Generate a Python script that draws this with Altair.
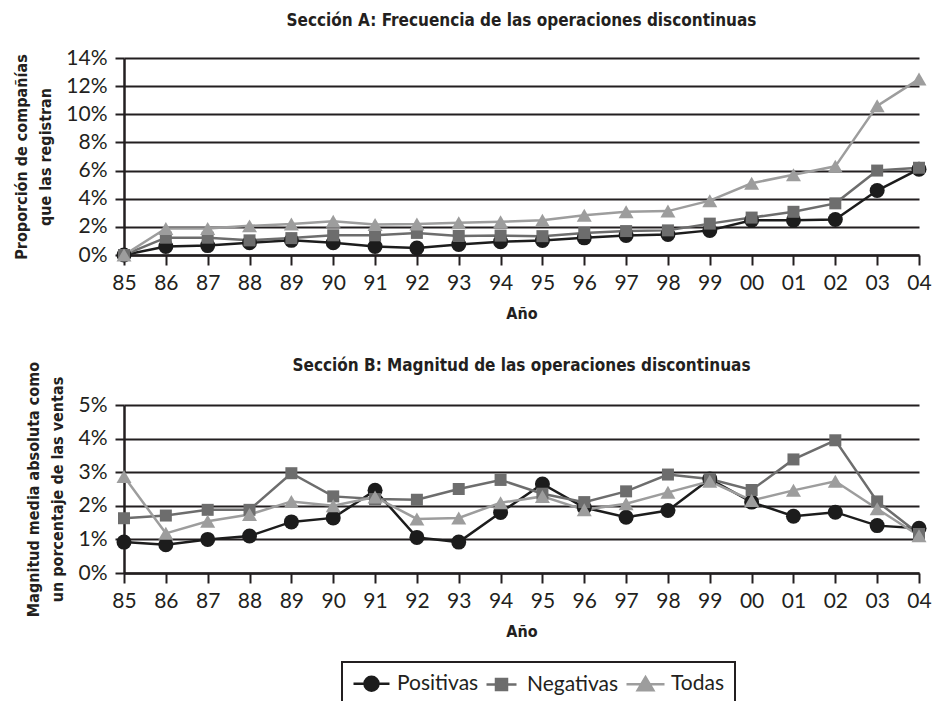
import altair as alt
import pandas as pd

# ---- data ----
anios = ["85", "86", "87", "88", "89", "90", "91", "92", "93", "94",
         "95", "96", "97", "98", "99", "00", "01", "02", "03", "04"]
series = ["Positivas", "Negativas", "Todas"]

# Sección A: frecuencia (%)
a_positivas = [0.0, 0.6, 0.67, 0.87, 1.04, 0.87, 0.6, 0.5, 0.75, 0.95,
               1.03, 1.22, 1.39, 1.46, 1.75, 2.47, 2.47, 2.52, 4.58, 6.1]
a_negativas = [0.0, 1.23, 1.23, 1.04, 1.2, 1.4, 1.4, 1.57, 1.35, 1.38,
               1.34, 1.56, 1.7, 1.75, 2.23, 2.66, 3.07, 3.67, 6.0, 6.2]
a_todas = [0.0, 1.88, 1.88, 2.07, 2.2, 2.4, 2.17, 2.2, 2.3, 2.36,
           2.47, 2.83, 3.07, 3.12, 3.86, 5.1, 5.7, 6.3, 10.6, 12.5]

# Sección B: magnitud (%)
b_positivas = [0.92, 0.84, 1.0, 1.1, 1.52, 1.64, 2.46, 1.06, 0.92, 1.8,
               2.65, 1.95, 1.66, 1.86, 2.8, 2.11, 1.69, 1.81, 1.41, 1.33]
b_negativas = [1.63, 1.71, 1.88, 1.88, 2.97, 2.28, 2.2, 2.18, 2.5, 2.77,
               2.36, 2.11, 2.43, 2.93, 2.8, 2.47, 3.38, 3.95, 2.13, 1.16]
b_todas = [2.87, 1.18, 1.54, 1.74, 2.13, 2.0, 2.26, 1.61, 1.64, 2.09,
           2.28, 1.88, 2.06, 2.4, 2.73, 2.16, 2.46, 2.73, 1.91, 1.11]

a_ticks = [0, 2, 4, 6, 8, 10, 12, 14]
b_ticks = [0, 1, 2, 3, 4, 5]

# ---- styles ----
colores = ["#1c1c1c", "#6d6d6d", "#9d9d9d"]
formas = ["circle", "square", "triangle-up"]
tamanos = [225, 144, 225]
formas_leyenda = [
    "M-1.8,0L1.8,0M0.7,0A0.7,0.7,0,1,1,-0.7,0A0.7,0.7,0,1,1,0.7,0Z",
    "M-1.5,0L1.5,0M-0.55,-0.55L0.55,-0.55L0.55,0.55L-0.55,0.55Z",
    "M-1.9,0L1.9,0M0,-0.7L0.78,0.6L-0.78,0.6Z",
]
INK = "#231f20"
TFONT = "DejaVu Sans Condensed, Roboto, sans-serif"
LFONT = "Lato"
ANCHO = 795


def largo(pos, neg, tod):
    rows = []
    for s, vals in zip(series, [pos, neg, tod]):
        for i, (a, v) in enumerate(zip(anios, vals)):
            rows.append({"anio": a, "idx": i, "serie": s, "valor": v})
    return pd.DataFrame(rows)


def panel(df, titulo, ytitulo, ticks, alto, leyenda=False, toff=12, tdy=0):
    base = alt.Chart(df)
    x = alt.X("anio:N", sort=anios, scale=alt.Scale(type="point", padding=0),
              axis=alt.Axis(title="Año", labelAngle=0, grid=False))
    y = alt.Y("valor:Q", scale=alt.Scale(domain=[ticks[0], ticks[-1]], nice=False),
              axis=alt.Axis(title=ytitulo, values=ticks, grid=True,
                            labelExpr="datum.value + '%'"))
    lineas = base.mark_line(strokeWidth=2.5).encode(
        x=x, y=y,
        color=alt.Color("serie:N", scale=alt.Scale(domain=series, range=colores), legend=None),
        order=alt.Order("idx:Q"),
    )
    capas = [lineas]
    for s, c, f, t in zip(series, colores, formas, tamanos):
        capas.append(
            base.transform_filter(alt.datum.serie == s)
            .mark_point(shape=f, size=t, color=c, filled=True, opacity=1)
            .encode(x=x, y=y)
        )
    if leyenda:
        leg = alt.Legend(title=None, orient="none", legendX=218, legendY=257,
                         direction="horizontal", columns=3,
                         symbolSize=400, symbolStrokeWidth=2.5, symbolOpacity=1,
                         symbolOffset=8, labelOffset=14, columnPadding=2,
                         labelFont=LFONT, labelFontSize=21, labelColor=INK,
                         strokeColor=INK, padding=10)
        capas.append(
            base.mark_point(filled=True).encode(
                x=x, y=y, opacity=alt.value(0),
                fill=alt.Fill("serie:N", scale=alt.Scale(domain=series, range=colores), legend=leg),
                stroke=alt.Stroke("serie:N", scale=alt.Scale(domain=series, range=colores), legend=leg),
                shape=alt.Shape("serie:N", scale=alt.Scale(domain=series, range=formas_leyenda), legend=leg),
            )
        )
    return alt.layer(*capas).properties(
        width=ANCHO, height=alto,
        title=alt.Title(titulo, anchor="middle", frame="group", offset=toff, dy=tdy,
                        font=TFONT, fontSize=17, fontWeight="bold", color=INK),
    )


chart_a = panel(largo(a_positivas, a_negativas, a_todas),
                "Sección A: Frecuencia de las operaciones discontinuas",
                ["Proporción de compañías", "que las registran"], a_ticks, 197, toff=17)
chart_b = panel(largo(b_positivas, b_negativas, b_todas),
                "Sección B: Magnitud de las operaciones discontinuas",
                ["Magnitud media absoluta como", "un porcentaje de las ventas"], b_ticks, 168,
                leyenda=True, toff=12, tdy=26)

chart = (
    alt.vconcat(chart_a, chart_b, spacing=36)
    .resolve_scale(fill="independent", stroke="independent", shape="independent")
    .properties(padding={"left": 5, "top": 4, "right": 0, "bottom": 0})
    .configure_view(stroke=None)
    .configure_axis(
        domainColor=INK, domainWidth=2.5, tickColor=INK, tickWidth=2, tickSize=9,
        gridColor=INK, gridWidth=2, gridOpacity=1,
        labelFont=LFONT, labelFontSize=21, labelColor=INK, labelPadding=7,
        titleFont=TFONT, titleFontSize=16, titleFontWeight="bold", titleColor=INK,
        titleLineHeight=24,
    )
    .configure_axisX(tickSize=10, titlePadding=12)
    .configure_axisY(titlePadding=12, labelPadding=8)
    .configure_legend(strokeWidth=2)
)

chart.save("out.html", embed_options={"renderer": "svg", "actions": False})
